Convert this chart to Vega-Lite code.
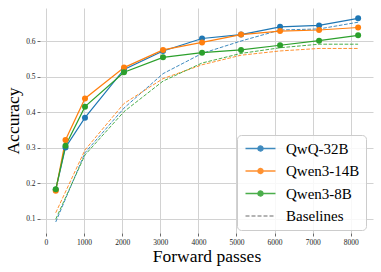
{
  "$schema": "https://vega.github.io/schema/vega-lite/v6.json",
  "width": 333,
  "height": 225,
  "autosize": {"type": "none"},
  "padding": {"left": 40, "top": 8, "right": 8, "bottom": 39},
  "background": "white",
  "datasets": {
    "main": [
      {"model": "QwQ-32B", "x": 256, "acc": 0.182},
      {"model": "QwQ-32B", "x": 512, "acc": 0.301},
      {"model": "QwQ-32B", "x": 1024, "acc": 0.385},
      {"model": "QwQ-32B", "x": 2048, "acc": 0.521},
      {"model": "QwQ-32B", "x": 3072, "acc": 0.573},
      {"model": "QwQ-32B", "x": 4096, "acc": 0.608},
      {"model": "QwQ-32B", "x": 5120, "acc": 0.619},
      {"model": "QwQ-32B", "x": 6144, "acc": 0.641},
      {"model": "QwQ-32B", "x": 7168, "acc": 0.645},
      {"model": "QwQ-32B", "x": 8192, "acc": 0.665},
      {"model": "Qwen3-14B", "x": 256, "acc": 0.179},
      {"model": "Qwen3-14B", "x": 512, "acc": 0.322},
      {"model": "Qwen3-14B", "x": 1024, "acc": 0.439},
      {"model": "Qwen3-14B", "x": 2048, "acc": 0.526},
      {"model": "Qwen3-14B", "x": 3072, "acc": 0.576},
      {"model": "Qwen3-14B", "x": 4096, "acc": 0.597},
      {"model": "Qwen3-14B", "x": 5120, "acc": 0.619},
      {"model": "Qwen3-14B", "x": 6144, "acc": 0.629},
      {"model": "Qwen3-14B", "x": 7168, "acc": 0.632},
      {"model": "Qwen3-14B", "x": 8192, "acc": 0.639},
      {"model": "Qwen3-8B", "x": 256, "acc": 0.183},
      {"model": "Qwen3-8B", "x": 512, "acc": 0.306},
      {"model": "Qwen3-8B", "x": 1024, "acc": 0.416},
      {"model": "Qwen3-8B", "x": 2048, "acc": 0.513},
      {"model": "Qwen3-8B", "x": 3072, "acc": 0.555},
      {"model": "Qwen3-8B", "x": 4096, "acc": 0.568},
      {"model": "Qwen3-8B", "x": 5120, "acc": 0.576},
      {"model": "Qwen3-8B", "x": 6144, "acc": 0.589},
      {"model": "Qwen3-8B", "x": 7168, "acc": 0.602},
      {"model": "Qwen3-8B", "x": 8192, "acc": 0.617}
    ],
    "base": [
      {"model": "QwQ-32B", "x": 256, "acc": 0.091},
      {"model": "QwQ-32B", "x": 1024, "acc": 0.286},
      {"model": "QwQ-32B", "x": 2048, "acc": 0.412},
      {"model": "QwQ-32B", "x": 3072, "acc": 0.509},
      {"model": "QwQ-32B", "x": 4096, "acc": 0.566},
      {"model": "QwQ-32B", "x": 5120, "acc": 0.601},
      {"model": "QwQ-32B", "x": 6144, "acc": 0.632},
      {"model": "QwQ-32B", "x": 7168, "acc": 0.635},
      {"model": "QwQ-32B", "x": 8192, "acc": 0.654},
      {"model": "Qwen3-14B", "x": 256, "acc": 0.117},
      {"model": "Qwen3-14B", "x": 1024, "acc": 0.294},
      {"model": "Qwen3-14B", "x": 2048, "acc": 0.425},
      {"model": "Qwen3-14B", "x": 3072, "acc": 0.495},
      {"model": "Qwen3-14B", "x": 4096, "acc": 0.534},
      {"model": "Qwen3-14B", "x": 5120, "acc": 0.561},
      {"model": "Qwen3-14B", "x": 6144, "acc": 0.573},
      {"model": "Qwen3-14B", "x": 7168, "acc": 0.580},
      {"model": "Qwen3-14B", "x": 8192, "acc": 0.580},
      {"model": "Qwen3-8B", "x": 256, "acc": 0.099},
      {"model": "Qwen3-8B", "x": 1024, "acc": 0.280},
      {"model": "Qwen3-8B", "x": 2048, "acc": 0.402},
      {"model": "Qwen3-8B", "x": 3072, "acc": 0.488},
      {"model": "Qwen3-8B", "x": 4096, "acc": 0.539},
      {"model": "Qwen3-8B", "x": 5120, "acc": 0.566},
      {"model": "Qwen3-8B", "x": 6144, "acc": 0.582},
      {"model": "Qwen3-8B", "x": 7168, "acc": 0.592},
      {"model": "Qwen3-8B", "x": 8192, "acc": 0.592}
    ]
  },
  "encoding": {
    "x": {
      "field": "x", "type": "quantitative",
      "scale": {"domain": [-157, 8583], "nice": false, "zero": false},
      "axis": {"title": "Forward passes", "values": [0, 1000, 2000, 3000, 4000, 5000, 6000, 7000, 8000], "format": "d", "titlePadding": 2, "labelPadding": 2}
    },
    "y": {
      "field": "acc", "type": "quantitative",
      "scale": {"domain": [0.06, 0.694], "nice": false, "zero": false},
      "axis": {"title": "Accuracy", "values": [0.1, 0.2, 0.3, 0.4, 0.5, 0.6], "format": ".1f", "titlePadding": 3, "labelPadding": 2}
    },
    "color": {
      "field": "model", "type": "nominal",
      "scale": {"domain": ["QwQ-32B", "Qwen3-14B", "Qwen3-8B", "Baselines"], "range": ["#1f77b4", "#ff7f0e", "#2ca02c", "#8c8c8c"]},
      "legend": {
        "title": null,
        "orient": "none",
        "legendX": 197,
        "legendY": 127,
        "padding": 6,
        "rowPadding": 6.5,
        "labelOffset": 18,
        "symbolOffset": 10,
        "symbolSize": 100,
        "symbolType": "M-3,0L3,0",
        "fillColor": "rgba(255,255,255,0.85)",
        "strokeColor": "#cccccc",
        "cornerRadius": 4,
        "labelFont": "Liberation Serif",
        "labelFontSize": 15,
        "labelColor": "#000000",
        "labelLimit": 200,
        "encode": {
          "symbols": {
            "update": {
              "shape": {"signal": "datum.value === 'Baselines' ? 'M-3,0L3,0' : 'M-3,0L3,0M-0.5,0A0.5,0.5,0,1,1,0.5,0A0.5,0.5,0,1,1,-0.5,0Z'"},
              "fill": {"signal": "datum.value === 'Baselines' ? 'transparent' : scale('color', datum.value)"},
              "stroke": {"signal": "scale('color', datum.value)"},
              "strokeDash": {"signal": "datum.value === 'Baselines' ? [4, 2] : [1, 0]"},
              "strokeWidth": {"value": 1.4},
              "opacity": {"value": 0.85}
            }
          }
        }
      }
    }
  },
  "layer": [
    {
      "data": {"name": "base"},
      "mark": {"type": "line", "strokeWidth": 1, "strokeDash": [3.7, 1.6], "opacity": 0.85}
    },
    {
      "data": {"name": "main"},
      "mark": {"type": "line", "strokeWidth": 1.2, "point": {"filled": true, "size": 36, "opacity": 1}}
    }
  ],
  "config": {
    "view": {"stroke": null},
    "font": "Liberation Serif",
    "legend": {"labelFont": "Liberation Serif"},
    "axis": {
      "grid": true,
      "gridColor": "#d2d2d2",
      "gridWidth": 1,
      "domain": false,
      "ticks": true,
      "tickSize": 3,
      "tickWidth": 0.8,
      "tickColor": "#444444",
      "labelFont": "Liberation Serif",
      "labelFontSize": 7.5,
      "labelColor": "#222222",
      "titleFont": "Liberation Serif",
      "titleFontSize": 17.5,
      "titleFontWeight": "normal",
      "titleColor": "#000000"
    }
  }
}
